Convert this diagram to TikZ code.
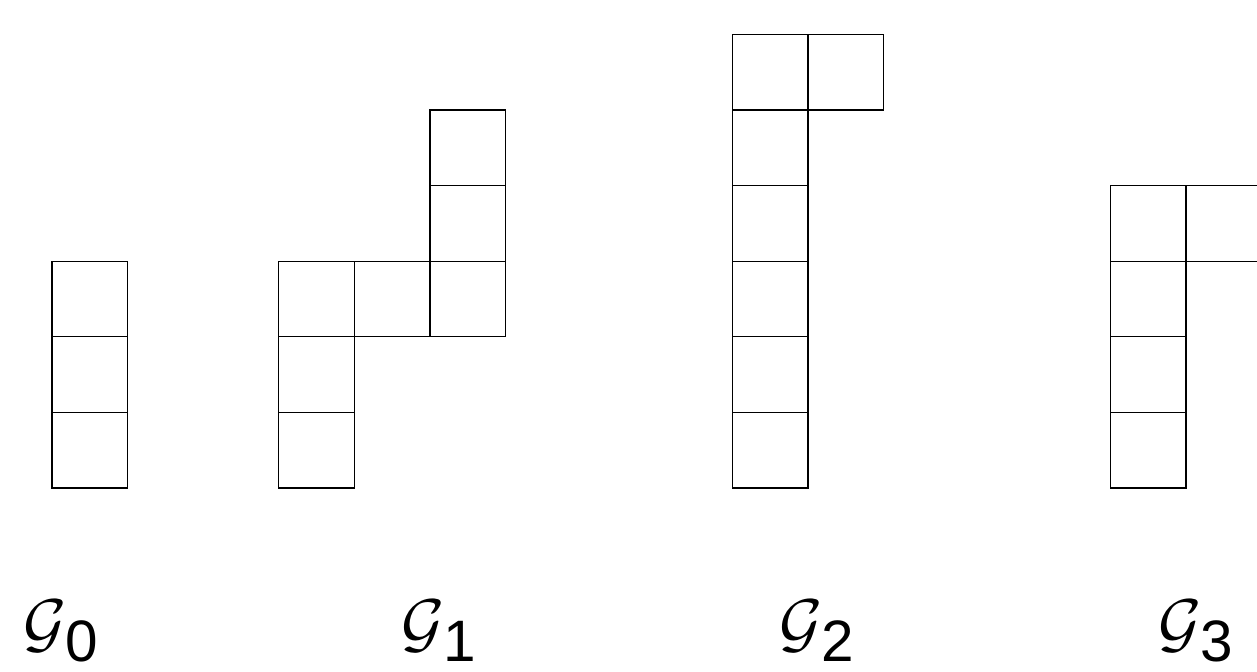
\documentclass[tikz,border=0pt]{standalone}
\usepackage{fontspec}
\setsansfont{Liberation Sans}
\usepackage{amsmath,amssymb}
\usetikzlibrary{positioning}

\tikzset{
  cell/.style={draw=black, line width=0.5pt},
  glabel/.style={anchor=base west, inner sep=0pt}
}
\newcommand{\glab}[1]{\fontsize{33}{36}\selectfont$\mathcal{G}$\kern-0.5pt\raisebox{-6pt}{\fontsize{22}{24}\selectfont\sffamily #1}}

\begin{document}
\begin{tikzpicture}[x=1cm, y=1cm]
      \useasboundingbox (-0.688,-2.434) rectangle (15.94,6.455);
      \clip (-0.688,-2.434) rectangle (15.94,6.455);

      % G_0 : eine Saeule
      \foreach \x/\y in {0/0,0/1,0/2} {
        \draw[cell] (\x,\y) rectangle ++(1,1);
      }

      % G_1
      \foreach \x/\y in {3/0,3/1,3/2,4/2,5/2,5/3,5/4} {
        \draw[cell] (\x,\y) rectangle ++(1,1);
      }

      % G_2
      \foreach \x/\y in {9/0,9/1,9/2,9/3,9/4,9/5,10/5} {
        \draw[cell] (\x,\y) rectangle ++(1,1);
      }

      % G_3 (rechts abgeschnitten)
      \foreach \x/\y in {14/0,14/1,14/2,14/3,15/3} {
        \draw[cell] (\x,\y) rectangle ++(1,1);
      }

      % Beschriftungen
      \node[glabel] (lab0) at (-0.38,-2.09) {\glab{0}};
      \node[glabel] (lab1) at (4.62,-2.09) {\glab{1}};
      \node[glabel] (lab2) at (9.62,-2.09) {\glab{2}};
      \node[glabel] (lab3) at (14.63,-2.09) {\glab{3}};
\end{tikzpicture}
\end{document}
